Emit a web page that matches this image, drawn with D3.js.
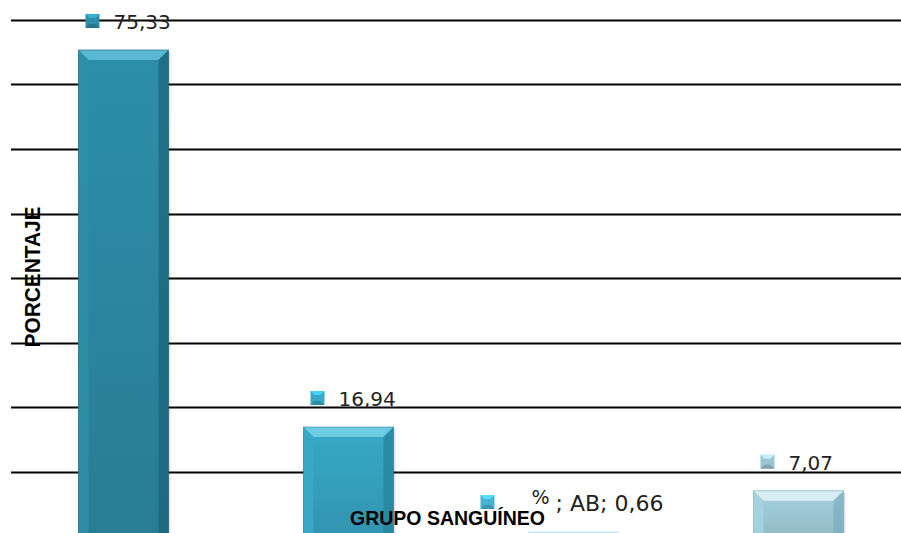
<!DOCTYPE html>
<html>
<head>
<script src="https://d3js.org/d3.v7.min.js"></script>
<style>
  body { margin: 0; background: #fff; }
  svg { display: block; }
</style>
</head>
<body>
<svg id="chart" width="901" height="533"></svg>
<script>
// data
const groups = ["O", "A", "AB", "B"];
const values = [75.33, 16.94, 0.66, 7.07];
const valueLabels = ["75,33", "16,94", "; AB; 0,66", "7,07"];
const labelPrefix = ["", "", "%", ""];
const gridTicks = [10, 20, 30, 40, 50, 60, 70, 80];

// bar colours: main, light bevel, dark bevel, legend key
const barColors = [
  { main: "#2d8ea9", light: "#5bb8d1", dark: "#1c6378", key: "#2d8ea9" },
  { main: "#37a9c7", light: "#6fcbe2", dark: "#23819b", key: "#37a9c7" },
  { main: "#bde9f6", light: "#e2f6fc", dark: "#8fd6ec", key: "#47b2d2" },
  { main: "#a6d2e0", light: "#d8eef5", dark: "#7aaebe", key: "#9cc4d2" }
];

const svg = d3.select("#chart");
const W = 901;

const x = d3.scaleBand().domain(groups).range([11, 911]).paddingInner(0.6).paddingOuter(0.3);
const y = d3.scaleLinear().domain([0, 80]).range([536.4, 19.8]);

// gradients
const defs = svg.append("defs");
barColors.forEach((c, i) => {
  const g = defs.append("linearGradient").attr("id", "g" + i)
    .attr("x1", 0).attr("y1", 0).attr("x2", 0).attr("y2", 1);
  g.append("stop").attr("offset", "0%").attr("stop-color", c.main);
  g.append("stop").attr("offset", "100%").attr("stop-color", d3.color(c.main).darker(0.35));
});

// gridlines
svg.append("g").selectAll("line").data(gridTicks).join("line")
  .attr("x1", 11).attr("x2", W)
  .attr("y1", d => Math.round(y(d)) + 0.5).attr("y2", d => Math.round(y(d)) + 0.5)
  .attr("stroke", "#000").attr("stroke-width", 2);

// bars with bevel
const bars = svg.append("g").selectAll("g").data(values).join("g");
bars.each(function (v, i) {
  const g = d3.select(this);
  const x0 = x(groups[i]), w = x.bandwidth();
  const y0 = y(v), y1 = y(0);
  const b = Math.min(10, (y1 - y0) / 2);
  const c = barColors[i];
  g.append("rect").attr("x", x0 + 2).attr("y", y0 + 2).attr("width", w).attr("height", y1 - y0)
    .attr("fill", "#000").attr("opacity", 0.12);
  g.append("rect").attr("x", x0).attr("y", y0).attr("width", w).attr("height", y1 - y0)
    .attr("fill", "url(#g" + i + ")");
  // top bevel
  g.append("polygon")
    .attr("points", [[x0, y0], [x0 + w, y0], [x0 + w - b, y0 + b], [x0 + b, y0 + b]].join(" "))
    .attr("fill", c.light);
  // left bevel
  g.append("polygon")
    .attr("points", [[x0, y0], [x0 + b, y0 + b], [x0 + b, y1], [x0, y1]].join(" "))
    .attr("fill", c.main).attr("opacity", 0.9);
  // right bevel
  g.append("polygon")
    .attr("points", [[x0 + w, y0], [x0 + w - b, y0 + b], [x0 + w - b, y1], [x0 + w, y1]].join(" "))
    .attr("fill", c.dark).attr("opacity", 0.7);
  g.append("rect").attr("x", x0).attr("y", y0).attr("width", w).attr("height", y1 - y0)
    .attr("fill", "none").attr("stroke", c.dark).attr("stroke-opacity", 0.6);
});

// axis titles
svg.append("text")
  .attr("transform", "translate(40,277) rotate(-90)")
  .attr("text-anchor", "middle")
  .attr("font-family", "Liberation Sans, Arial, sans-serif")
  .attr("font-weight", "bold").attr("font-size", 22)
  .attr("textLength", 141).attr("lengthAdjust", "spacingAndGlyphs")
  .text("PORCENTAJE");

svg.append("text")
  .attr("x", 350).attr("y", 525)
  .attr("font-family", "Liberation Sans, Arial, sans-serif")
  .attr("font-weight", "bold").attr("font-size", 21)
  .attr("textLength", 195).attr("lengthAdjust", "spacingAndGlyphs")
  .text("GRUPO SANGUÍNEO");

// data labels with small legend key
values.forEach((v, i) => {
  const c = barColors[i];
  const cx = x(groups[i]) + x.bandwidth() / 2;
  const kx = i === 2 ? cx - 93 : cx - 38;
  const ky = i === 2 ? 495 : y(v) - 36;
  const k = svg.append("g");
  k.append("rect").attr("x", kx).attr("y", ky).attr("width", 14).attr("height", 14).attr("fill", c.key);
  k.append("polygon").attr("points", [[kx, ky], [kx + 14, ky], [kx + 10, ky + 4], [kx + 4, ky + 4]].join(" "))
    .attr("fill", d3.color(c.key).brighter(0.6));
  k.append("polygon").attr("points", [[kx, ky + 14], [kx + 14, ky + 14], [kx + 10, ky + 10], [kx + 4, ky + 10]].join(" "))
    .attr("fill", d3.color(c.key).darker(0.5));
  if (labelPrefix[i]) {
    svg.append("text").attr("x", kx + 51).attr("y", ky + 9)
      .attr("font-family", "DejaVu Sans, Verdana, sans-serif").attr("font-size", 19)
      .attr("fill", "#222").text(labelPrefix[i]);
    svg.append("text").attr("x", kx + 75).attr("y", ky + 16)
      .attr("font-family", "DejaVu Sans, Verdana, sans-serif").attr("font-size", 22)
      .attr("fill", "#222").text(valueLabels[i]);
  } else {
    svg.append("text").attr("x", kx + 28).attr("y", ky + 15)
      .attr("font-family", "DejaVu Sans, Verdana, sans-serif").attr("font-size", 20)
      .attr("fill", "#222").text(valueLabels[i]);
  }
});
</script>
</body>
</html>
